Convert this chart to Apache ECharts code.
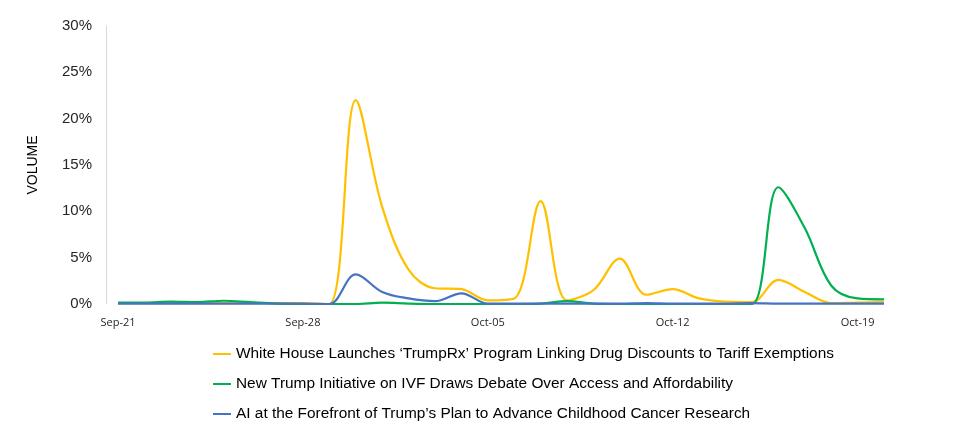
<!DOCTYPE html>
<html>
<head>
<meta charset="utf-8">
<script src="https://cdn.jsdelivr.net/npm/echarts@6/dist/echarts.min.js"></script>
<style>
  html, body { margin: 0; padding: 0; background: #fff; }
  #chart { width: 956px; height: 435px; }
</style>
</head>
<body>
<div id="chart"></div>
<script>
// days Sep-21 .. Oct-20
const days = [
  'Sep-21', 'Sep-22', 'Sep-23', 'Sep-24', 'Sep-25', 'Sep-26', 'Sep-27',
  'Sep-28', 'Sep-29', 'Sep-30', 'Oct-01', 'Oct-02', 'Oct-03', 'Oct-04',
  'Oct-05', 'Oct-06', 'Oct-07', 'Oct-08', 'Oct-09', 'Oct-10', 'Oct-11',
  'Oct-12', 'Oct-13', 'Oct-14', 'Oct-15', 'Oct-16', 'Oct-17', 'Oct-18',
  'Oct-19', 'Oct-20'
]

const seriesNames = [
  'White House Launches \u2018TrumpRx\u2019 Program Linking Drug Discounts to Tariff Exemptions',
  'New Trump Initiative on IVF Draws Debate Over Access and Affordability',
  'AI at the Forefront of Trump\u2019s Plan to Advance Childhood Cancer Research'
]

// share of volume, in %
const trumpRx = [
  0.1, 0.1, 0.1, 0.1, 0.1, 0.1, 0.1,
  0.1, 0, 22.0, 10.5, 3.7, 1.7, 1.6,
  0.4, 0.6, 11.1, 0.4, 1.5, 4.9, 1.0,
  1.6, 0.6, 0.25, 0.2, 2.6, 1.3, 0.1,
  0.15, 0.2
]
const ivf = [
  0.15, 0.15, 0.25, 0.2, 0.35, 0.2, 0.05,
  0, 0, 0, 0.15, 0.05, 0, 0,
  0, 0, 0.05, 0.3, 0.05, 0, 0,
  0, 0, 0, 0, 12.6, 8.2, 2.0,
  0.6, 0.5
]
const cancerAI = [
  0.05, 0.05, 0.05, 0.05, 0.05, 0.05, 0.05,
  0.05, 0, 3.2, 1.3, 0.6, 0.3, 1.15,
  0.05, 0.05, 0.05, 0.05, 0.05, 0.05, 0.1,
  0.05, 0.05, 0.05, 0.1, 0.05, 0.05, 0.05,
  0.05, 0.05
]

const colors = ['#FFC000', '#00B050', '#4472C4']

const chart = echarts.init(document.getElementById('chart'))

const mkLine = (name, data, color) => ({
  name: name,
  type: 'line',
  data: data,
  smooth: 0.35,
  symbol: 'none',
  lineStyle: { color: color, width: 2.2 },
  itemStyle: { color: color }
})

chart.setOption({
  animation: false,
  grid: { left: 118, right: 72, top: 26, bottom: 131 },
  xAxis: {
    type: 'category',
    data: days,
    boundaryGap: false,
    axisLine: { show: false },
    axisTick: { show: false },
    axisLabel: {
      interval: 6,
      margin: 13,
      color: '#262626',
      fontFamily: 'Open Sans',
      fontSize: 11
    },
    splitLine: { show: false }
  },
  yAxis: {
    type: 'value',
    min: 0,
    max: 30,
    interval: 5,
    offset: 12,
    name: 'VOLUME',
    nameLocation: 'middle',
    nameGap: 66,
    nameRotate: 90,
    nameTextStyle: { color: '#000', fontFamily: 'Liberation Sans', fontSize: 14 },
    axisLine: { show: true, lineStyle: { color: '#d9d9d9', width: 1 } },
    axisTick: { show: false },
    splitLine: { show: false },
    axisLabel: {
      margin: 14,
      color: '#262626',
      fontFamily: 'Liberation Sans',
      fontSize: 15,
      formatter: v => v + '%'
    }
  },
  legend: {
    orient: 'vertical',
    left: 213,
    top: 345,
    padding: 0,
    itemGap: 12,
    itemWidth: 18,
    itemHeight: 2,
    icon: 'rect',
    textStyle: { color: '#000', fontFamily: 'Liberation Sans', fontSize: 15.4, lineHeight: 18 },
    data: seriesNames
  },
  series: [
    mkLine(seriesNames[0], trumpRx, colors[0]),
    mkLine(seriesNames[1], ivf, colors[1]),
    mkLine(seriesNames[2], cancerAI, colors[2])
  ]
})

window.addEventListener('resize', function() {
  chart.resize()
})
</script>
</body>
</html>
